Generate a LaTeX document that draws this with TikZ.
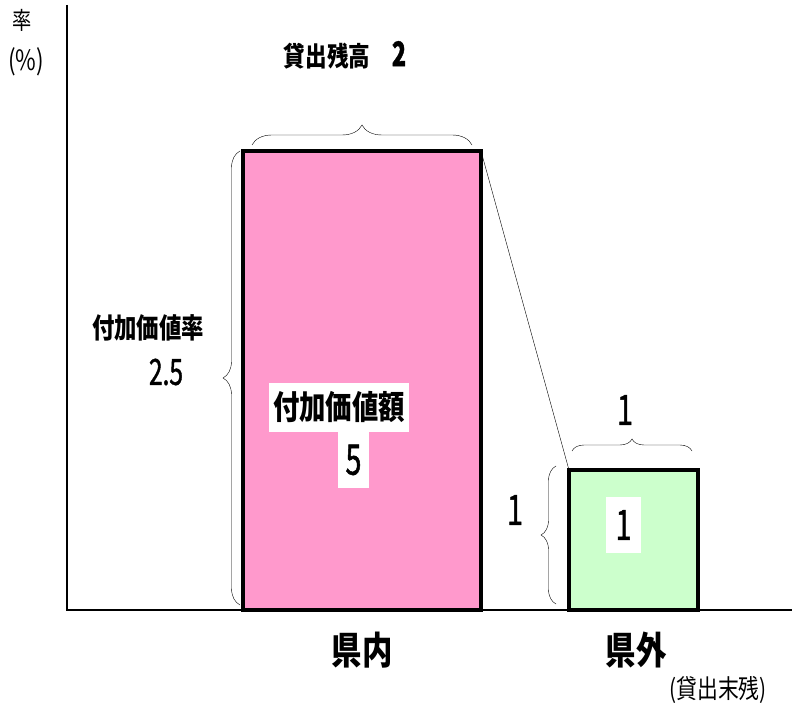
\documentclass[tikz,border=0pt]{standalone}
\usepackage{fontspec}
\usepackage{tikz}
\usetikzlibrary{decorations.pathreplacing,positioning}
\newfontfamily\jpfont[FakeStretch=0.8]{Noto Sans CJK JP}
\newfontfamily\numfont[FakeStretch=0.68,FakeBold=1.2]{Noto Sans CJK JP}
\definecolor{kennai}{RGB}{255,153,204}
\definecolor{kengai}{RGB}{204,255,204}

\begin{document}
\begin{tikzpicture}[x=1pt, y=1pt, font=\jpfont,
  bar/.style={draw, line width=3.2pt, anchor=south west, inner sep=0pt, outer sep=0pt},
  brc/.style={draw, thin, decorate, decoration={brace, amplitude=#1}},
  lbl/.style={font=\jpfont\bfseries\fontsize{#1}{#1}\selectfont},
  num/.style={font=\numfont\fontsize{#1}{#1}\selectfont},
  wbox/.style={fill=white, inner sep=0pt, minimum height=#1}]
\useasboundingbox (0,0) rectangle (792,702);

% axes
\draw[line width=1.6pt] (67,697) -- (67,92) -- (792,92);

% bars
\node(inside)[bar, fill=kennai, minimum width=238, minimum height=459] at (243,92) {};
\node(outside)[bar, fill=kengai, minimum width=129, minimum height=140] at (569,92) {};
\draw[thin] (inside.north east) -- (outside.north west);

% braces
\draw[brc=20] (252,557) -- (472,557);
\draw[brc=17] (240,97) -- (240,551);
\draw[brc=12] (572,251) -- (692,251);
\draw[brc=15] (556,98) -- (556,236);

% axis label
\node(rate) at (22,682) {\fontsize{24}{24}\selectfont 率};
\node(pct) at (26,640) {\fontsize{28}{28}\selectfont (\%)};

% labels
\node(loan)[lbl=27] at (345,647) {貸出残高　{\numfont\fontsize{34}{34}\selectfont 2}};
\node(vrate)[lbl=28] at (148,374) {付加価値率};
\node(vrateval)[num=36] at (166,330) {2.5};
\node(vamt)[lbl=33, wbox=49, minimum width=140] at (339,294.5) {付加価値額};
\node(vamtval)[num=42, wbox=56, minimum width=31] at (353.5,242) {5};
\node(gtop)[num=42] at (625,292) {1};
\node(gleft)[num=42] at (515,192) {1};
\node(gval)[num=42, wbox=56, minimum width=35] at (623.5,177) {1};

\node(inname)[lbl=38] at (362,52) {県内};
\node(outname)[lbl=38] at (636,52) {県外};
\node(outnote)[font=\jpfont\fontsize{26}{26}\selectfont] at (718,12) {(貸出末残)};
\end{tikzpicture}
\end{document}
